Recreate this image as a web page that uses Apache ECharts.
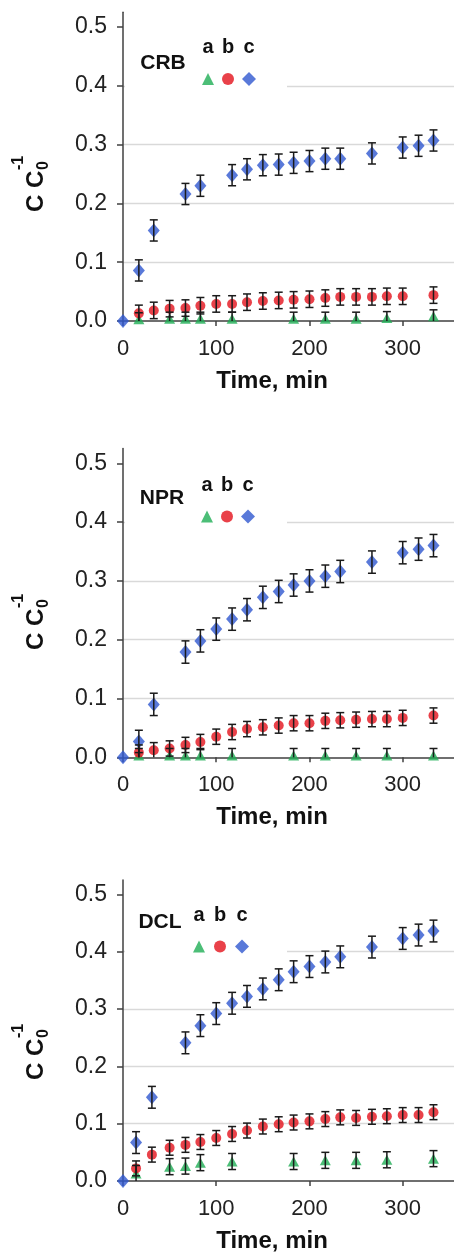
<!DOCTYPE html>
<html>
<head>
<meta charset="utf-8">
<script src="https://cdn.jsdelivr.net/npm/echarts@6/dist/echarts.min.js"></script>
<style>
  html, body { margin: 0; padding: 0; background: #fff; }
  #chart { width: 454px; height: 1254px; }
</style>
</head>
<body>
<div id="chart"></div>
<script>
// tick labels
const xTicks = [0, 100, 200, 300];
const yTicks = [0, 0.1, 0.2, 0.3, 0.4, 0.5];

// CRB
const crbTimeA = [17, 50, 67, 83, 117, 183, 217, 250, 283, 333];
const crbA = [0.003, 0.004, 0.004, 0.004, 0.004, 0.004, 0.004, 0.004, 0.005, 0.008];
const crbTimeB = [17, 33, 50, 67, 83, 100, 117, 133, 150, 167, 183, 200, 217, 233, 250, 267, 283, 300, 333];
const crbB = [0.013, 0.018, 0.021, 0.022, 0.026, 0.029, 0.029, 0.032, 0.034, 0.035, 0.036, 0.037, 0.039, 0.041, 0.041, 0.041, 0.042, 0.042, 0.044];
const crbTimeC = [0, 17, 33, 67, 83, 117, 133, 150, 167, 183, 200, 217, 233, 267, 300, 317, 333];
const crbC = [0, 0.086, 0.154, 0.216, 0.230, 0.248, 0.258, 0.265, 0.266, 0.269, 0.272, 0.276, 0.276, 0.285, 0.295, 0.298, 0.307];
const crbErr = [0.011, 0.014, 0.018]; // a, b, c

// NPR
const nprTimeA = [17, 50, 67, 83, 117, 183, 217, 250, 283, 333];
const nprA = [0.003, 0.003, 0.003, 0.003, 0.003, 0.003, 0.003, 0.003, 0.003, 0.003];
const nprTimeB = [17, 33, 50, 67, 83, 100, 117, 133, 150, 167, 183, 200, 217, 233, 250, 267, 283, 300, 333];
const nprB = [0.008, 0.012, 0.015, 0.021, 0.026, 0.035, 0.043, 0.048, 0.051, 0.054, 0.058, 0.058, 0.062, 0.063, 0.064, 0.065, 0.065, 0.067, 0.071];
const nprTimeC = [0, 17, 33, 67, 83, 100, 117, 133, 150, 167, 183, 200, 217, 233, 267, 300, 317, 333];
const nprC = [0, 0.027, 0.090, 0.179, 0.198, 0.218, 0.235, 0.251, 0.272, 0.282, 0.293, 0.300, 0.308, 0.316, 0.332, 0.348, 0.354, 0.360];
const nprErr = [0.012, 0.013, 0.019];

// DCL
const dclTimeA = [14, 50, 67, 83, 117, 183, 217, 250, 283, 333];
const dclA = [0.013, 0.025, 0.026, 0.032, 0.034, 0.034, 0.036, 0.036, 0.037, 0.039];
const dclTimeB = [14, 31, 50, 67, 83, 100, 117, 133, 150, 167, 183, 200, 217, 233, 250, 267, 283, 300, 317, 333];
const dclB = [0.022, 0.046, 0.058, 0.063, 0.068, 0.075, 0.082, 0.088, 0.095, 0.099, 0.102, 0.104, 0.108, 0.111, 0.110, 0.112, 0.113, 0.115, 0.115, 0.120];
const dclTimeC = [0, 14, 31, 67, 83, 100, 117, 133, 150, 167, 183, 200, 217, 233, 267, 300, 317, 333];
const dclC = [0, 0.067, 0.146, 0.241, 0.271, 0.292, 0.310, 0.322, 0.335, 0.351, 0.365, 0.374, 0.382, 0.391, 0.408, 0.423, 0.429, 0.436];
const dclErr = [0.014, 0.013, 0.019];

const FONT = 'Liberation Sans, Arial, sans-serif';
const GREEN = '#1fae55', RED = '#e3121c', BLUE = '#2f58d0';

// layout of each panel (pixels)
const panels = [
  { name: 'CRB', top: 12.3, height: 308.7, tA: crbTimeA, a: crbA, tB: crbTimeB, b: crbB, tC: crbTimeC, c: crbC, err: crbErr,
    box: 33, nameX: 163, nameY: 63, letX: [208, 228, 249], letY: 47, keyY: 79, titleY: 212 },
  { name: 'NPR', top: 448.6, height: 308.7, tA: nprTimeA, a: nprA, tB: nprTimeB, b: nprB, tC: nprTimeC, c: nprC, err: nprErr,
    box: 469, nameX: 162, nameY: 498, letX: [207, 227, 248], letY: 485, keyY: 516.5, titleY: 650 },
  { name: 'DCL', top: 880, height: 301.7, tA: dclTimeA, a: dclA, tB: dclTimeB, b: dclB, tC: dclTimeC, c: dclC, err: dclErr,
    box: 900, nameX: 160, nameY: 922, letX: [199, 220, 242], letY: 915, keyY: 946.5, titleY: 1080 }
];

function pairs(t, v) { return t.map((x, i) => [x, v[i]]); }
function errPairs(t, v, e) { return t.map((x, i) => [x, v[i], v[i] === 0 && x === 0 ? 0 : e]); }

function renderErr(params, api) {
  const x = api.value(0), y = api.value(1), e = api.value(2);
  if (!e) return;
  const top = api.coord([x, y + e]);
  const bot = api.coord([x, Math.max(0, y - e)]);
  const w = 4;
  const st = { stroke: '#1a1a1a', lineWidth: 1.5 };
  const children = [
    { type: 'line', shape: { x1: top[0], y1: top[1], x2: bot[0], y2: bot[1] }, style: st },
    { type: 'line', shape: { x1: top[0] - w, y1: top[1], x2: top[0] + w, y2: top[1] }, style: st }
  ];
  if (y - e > 0) {
    children.push({ type: 'line', shape: { x1: bot[0] - w, y1: bot[1], x2: bot[0] + w, y2: bot[1] }, style: st });
  }
  return { type: 'group', children: children };
}

const grid = [], xAxis = [], yAxis = [], series = [], legend = [], graphic = [];

panels.forEach((p, i) => {
  grid.push({ left: 123, right: 0, top: p.top, height: p.height });
  xAxis.push({
    gridIndex: i, type: 'value', min: 0, max: 355, interval: 100,
    name: 'Time, min', nameLocation: 'middle', nameGap: 48,
    nameTextStyle: { fontFamily: FONT, fontSize: 24, fontWeight: 'bold', color: '#111', padding: [0, 33, 0, 0] },
    axisLine: { lineStyle: { color: '#404040', width: 1.5 } },
    axisTick: { show: true, length: 5, customValues: xTicks, lineStyle: { color: '#404040', width: 1.5 } },
    axisLabel: { customValues: xTicks, fontFamily: FONT, fontSize: 22, color: '#222', margin: 17 },
    splitLine: { show: false }
  });
  yAxis.push({
    gridIndex: i, type: 'value', min: 0, max: 0.525, interval: 0.05,
    axisLine: { show: true, lineStyle: { color: '#404040', width: 1.5 } },
    axisTick: { show: true, length: 6, customValues: yTicks, lineStyle: { color: '#404040', width: 1.5 } },
    axisLabel: { customValues: yTicks, fontFamily: FONT, fontSize: 23, color: '#222', margin: 16,
      formatter: v => v.toFixed(1) },
    splitLine: { show: true, showMaxLine: false, showMinLine: false, lineStyle: { color: '#d9d9d9', width: 1.3 } }
  });

  const specs = [
    { n: 'a', t: p.tA, v: p.a, e: p.err[0], sym: 'triangle', size: [11, 10], key: 12, color: GREEN },
    { n: 'b', t: p.tB, v: p.b, e: p.err[1], sym: 'circle', size: 10, key: 12, color: RED },
    { n: 'c', t: p.tC, v: p.c, e: p.err[2], sym: 'diamond', size: [12, 14], key: 14, color: BLUE }
  ];
  specs.forEach((s, k) => {
    series.push({
      name: s.n, type: 'scatter', xAxisIndex: i, yAxisIndex: i,
      data: pairs(s.t, s.v), symbol: s.sym, symbolSize: s.size,
      itemStyle: { color: s.color }, clip: false, z: 3, animation: false
    });
    // one key item per symbol, centred under its letter
    legend.push({
      data: [{ name: s.n, icon: s.sym }],
      left: p.letX[k] - s.key / 2, top: p.keyY - s.key / 2, padding: 0,
      itemWidth: s.key, itemHeight: s.key,
      formatter: () => '', selectedMode: false, z: 6
    });
  });
  specs.forEach(s => {
    series.push({
      name: s.n + '-err' + i, type: 'custom', xAxisIndex: i, yAxisIndex: i,
      data: errPairs(s.t, s.v, s.e), renderItem: renderErr, z: 4, animation: false, silent: true
    });
  });

  // white box behind the key
  graphic.push({ type: 'rect', left: 125, top: p.box, shape: { width: 162, height: 70 },
    style: { fill: '#fff' }, z: 1 });
  graphic.push({ type: 'text', x: p.nameX, y: p.nameY, z: 5,
    style: { text: p.name, fontFamily: FONT, fontSize: 21, fontWeight: 'bold', fill: '#111',
      textAlign: 'center', textVerticalAlign: 'middle' } });
  ['a', 'b', 'c'].forEach((l, k) => {
    graphic.push({ type: 'text', x: p.letX[k], y: p.letY, z: 5,
      style: { text: l, fontFamily: FONT, fontSize: 20, fontWeight: 'bold', fill: '#111',
        textAlign: 'center', textVerticalAlign: 'middle' } });
  });
  // y-axis title: C C0^-1, rotated
  graphic.push({ type: 'group', x: 36, y: p.titleY, rotation: Math.PI / 2, z: 5, children: [
    { type: 'text', x: 0, y: 0, style: { text: 'C C', fontFamily: FONT, fontSize: 24, fontWeight: 'bold', fill: '#111',
      textAlign: 'left', textVerticalAlign: 'middle' } },
    { type: 'text', x: 42, y: 8, style: { text: '0', fontFamily: FONT, fontSize: 16, fontWeight: 'bold', fill: '#111',
      textAlign: 'left', textVerticalAlign: 'middle' } },
    { type: 'text', x: 42, y: -17, style: { text: '-1', fontFamily: FONT, fontSize: 16, fontWeight: 'bold', fill: '#111',
      textAlign: 'left', textVerticalAlign: 'middle' } }
  ] });
});

const chart = echarts.init(document.getElementById('chart'), null, { renderer: 'canvas' });
chart.setOption({
  animation: false,
  backgroundColor: '#fff',
  grid: grid, xAxis: xAxis, yAxis: yAxis, legend: legend, graphic: graphic, series: series
});
</script>
</body>
</html>
